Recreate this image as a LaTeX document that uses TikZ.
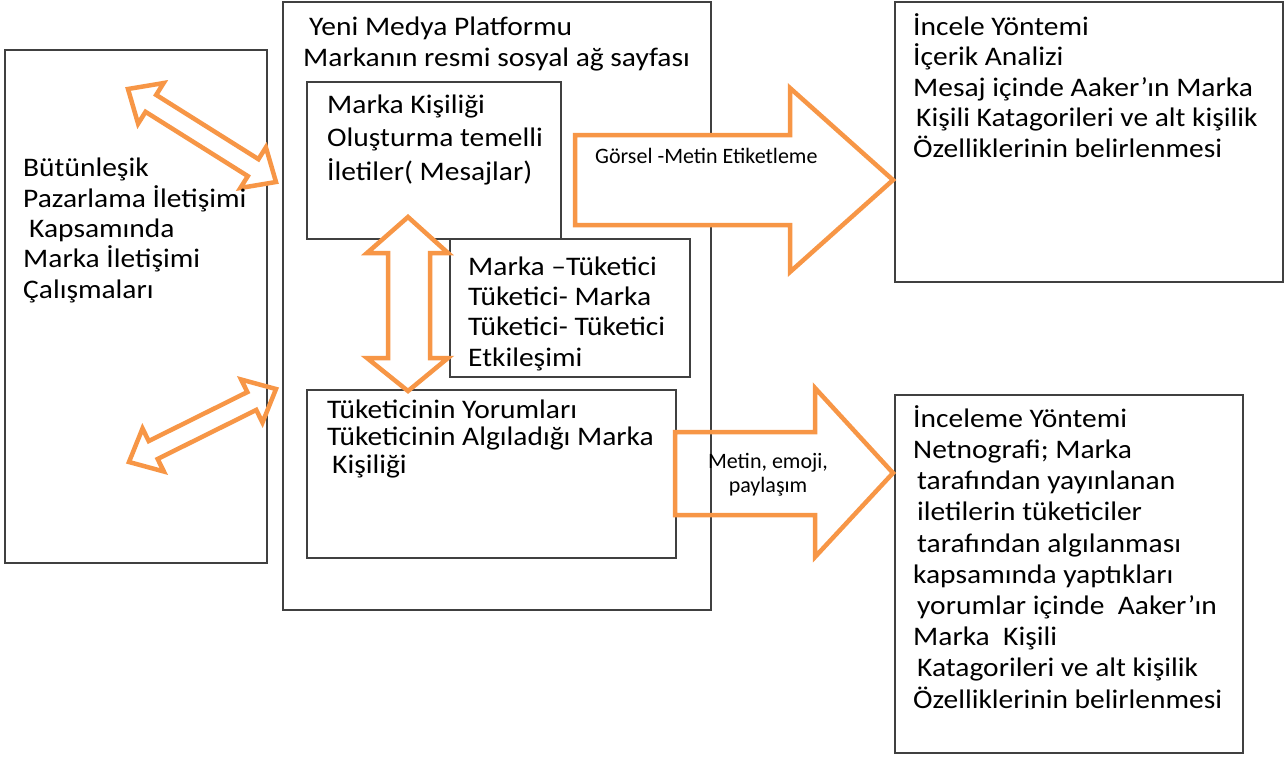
\documentclass[tikz,border=0pt]{standalone}
\usepackage{fontspec}
\setmainfont{Carlito}
\newfontfamily\widefont[FakeStretch=1.1]{Carlito}
\usetikzlibrary{calc}
\definecolor{accent}{HTML}{F79646}
\definecolor{frame}{HTML}{404040}

\tikzset{
  box/.style={draw=frame, line width=1.4pt, fill=white, inner sep=0pt, outer sep=0pt, anchor=north west},
  % multi-line text blocks are placed by the baseline of their last line
  bigtxt/.style={font={\widefont\fontsize{26.8}{#1}\selectfont}, align=left, anchor=base west, inner sep=0pt},
  bigtxt/.default=30.5,
  smalltxt/.style={font={\fontsize{22}{24}\selectfont}, inner sep=0pt},
  blockarrow/.style={draw=accent, line width=4.5pt, line join=miter},
}

% two-headed block arrow between two tip points
\newcommand\twoway[3]{%
  \path ($(#1)!27pt!(#2)$) coordinate (ha) ($(#2)!27pt!(#1)$) coordinate (hb);
  \draw[blockarrow, #3] (#1)
    -- ($(ha)!24pt!90:(#2)$) -- ($(ha)!10pt!90:(#2)$)
    -- ($(hb)!10pt!-90:(#1)$) -- ($(hb)!24pt!-90:(#1)$)
    -- (#2)
    -- ($(hb)!24pt!90:(#1)$) -- ($(hb)!10pt!90:(#1)$)
    -- ($(ha)!10pt!-90:(#2)$) -- ($(ha)!24pt!-90:(#2)$)
    -- cycle;}

\begin{document}
\begin{tikzpicture}[x=1pt, y=-1pt]
\useasboundingbox (0,0) rectangle (1287,756);

% frames
\node[box, minimum width=262pt, minimum height=513pt] (imc)  at (5,50)   {};
\node[box, minimum width=428pt, minimum height=608pt] (plat) at (283,2)  {};
\node[box, minimum width=254pt, minimum height=157pt] (msg)  at (307,82) {};
\node[box, minimum width=240pt, minimum height=138pt] (inter) at (450,239) {};
\node[box, minimum width=369pt, minimum height=168pt] (cons) at (307,390) {};
\node[box, minimum width=388pt, minimum height=280pt] (meth1) at (895,2) {};
\node[box, minimum width=348pt, minimum height=358pt] (meth2) at (895,395) {};

% block arrows
\draw[blockarrow, fill=white] (575,135) -- (790,135) -- (790,88) -- (893,180)
  -- (790,272) -- (790,225) -- (575,225) -- cycle;
\draw[blockarrow] (675,432) -- (815,432) -- (815,388) -- (893,473)
  -- (815,557) -- (815,515) -- (675,515) -- cycle;
\draw[blockarrow, fill=white] (408,217) -- (448,253) -- (430,253) -- (430,358)
  -- (448,358) -- (408,391) -- (367,358) -- (388,358) -- (388,253) -- (367,253) -- cycle;

\coordinate (ua) at (128,89);
\coordinate (ub) at (276,182);
\coordinate (la) at (129,462);
\coordinate (lb) at (276,389);
\twoway{ua}{ub}{fill=white}
\twoway{la}{lb}{}

% texts
\node[bigtxt=30.3] (t1) at (23,298) {Bütünleşik\\Pazarlama İletişimi\\\hspace*{6pt}Kapsamında\\Marka İletişimi\\Çalışmaları};
\node[bigtxt=31] (t2) at (309,35) {Yeni Medya Platformu};
\node[bigtxt=31] (t3) at (303,66) {Markanın resmi sosyal ağ sayfası};
\node[bigtxt=33.5] (t4) at (327,180) {Marka Kişiliği\\Oluşturma temelli\\İletiler( Mesajlar)};
\node[bigtxt=30.3] (t5) at (468,366) {Marka –Tüketici\\Tüketici- Marka\\Tüketici- Tüketici\\Etkileşimi};
\node[bigtxt=27.5] (t6) at (327,473) {Tüketicinin Yorumları\\Tüketicinin Algıladığı Marka\\\hspace*{5pt}Kişiliği};
\node[bigtxt=30.5] (t7) at (913,157) {İncele Yöntemi\\İçerik Analizi\\Mesaj içinde Aaker’ın Marka\\\hspace*{3pt}Kişili Katagorileri ve alt kişilik\\Özelliklerinin belirlenmesi};
\node[bigtxt=31.2] (t8) at (913,708) {İnceleme Yöntemi\\Netnografi; Marka\\\hspace*{4pt}tarafından yayınlanan\\\hspace*{4pt}iletilerin tüketiciler\\\hspace*{4pt}tarafından algılanması\\kapsamında yaptıkları\\\hspace*{4pt}yorumlar içinde\ \ Aaker’ın\\Marka\ \ Kişili\\\hspace*{4pt}Katagorileri ve alt kişilik\\Özelliklerinin belirlenmesi};

\node[smalltxt, anchor=base west] (l1) at (595,163) {Görsel -Metin Etiketleme};
\node[smalltxt, anchor=base, align=center] (l2) at (768,492) {Metin, emoji,\\paylaşım};
\end{tikzpicture}
\end{document}
